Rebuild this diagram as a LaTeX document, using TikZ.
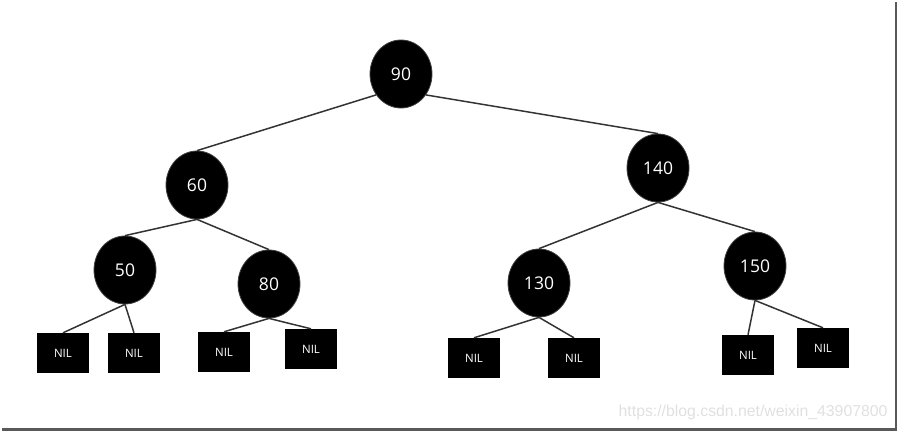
\documentclass[tikz,border=0pt]{standalone}
\usepackage{fontspec}
\setmainfont{Open Sans}
\newfontfamily\wmfont{Liberation Sans}
\usetikzlibrary{shapes.geometric}

\begin{document}
\begin{tikzpicture}[x=1pt,y=-1pt,
  keynode/.style={ellipse, fill=black, draw=black!75, line width=0.8pt, inner sep=0pt,
    minimum width=62pt, minimum height=68pt, text=white, font=\fontsize{17.5}{19}\selectfont},
  nilbox/.style={rectangle, fill=black, inner sep=0pt, minimum width=52pt, minimum height=40pt,
    text=white, font=\fontsize{11.5}{12}\selectfont},
  link/.style={draw=black!80, line width=1.5pt}]

\useasboundingbox (0,0) rectangle (900,432);

% frame shadow
\draw [black!65, line width=2.2pt] (896,2) -- (896,429.5) -- (2,429.5);

% keys
\node [keynode] (n90) at (401,74) {90};
\node [keynode] (n60) at (197,185) {60};
\node [keynode] (n140) at (658,168) {140};
\node [keynode] (n50) at (125,270) {50};
\node [keynode] (n80) at (269,284) {80};
\node [keynode] (n130) at (539,283) {130};
\node [keynode] (n150) at (755,266) {150};

% leaves
\node [nilbox] (nil1) at (63,353) {NIL};
\node [nilbox] (nil2) at (134,353) {NIL};
\node [nilbox] (nil3) at (224,352) {NIL};
\node [nilbox] (nil4) at (311,349) {NIL};
\node [nilbox] (nil5) at (474,358) {NIL};
\node [nilbox] (nil6) at (574,358) {NIL};
\node [nilbox] (nil7) at (748,355) {NIL};
\node [nilbox] (nil8) at (823,348) {NIL};

% links
\draw [link] (n90.220) -- (n60.north);
\draw [link] (n90.-40) -- (n140.north);
\draw [link] (n60.south) -- (n50.north);
\draw [link] (n60.south) -- (n80.north);
\draw [link] (n140.south) -- (n130.north);
\draw [link] (n140.south) -- (n150.north);
\draw [link] (n50.south) -- (nil1.north);
\draw [link] (n50.south) -- (nil2.north);
\draw [link] (n80.south) -- (nil3.north);
\draw [link] (n80.south) -- (nil4.north);
\draw [link] (n130.south) -- (nil5.north);
\draw [link] (n130.south) -- (nil6.north);
\draw [link] (n150.south) -- (nil7.north);
\draw [link] (n150.south) -- (nil8.north);

% watermark
\node [anchor=east, text=black!12, font=\wmfont\fontsize{15.8}{17}\selectfont] (mark) at (891,412) {https://blog.csdn.net/weixin\_43907800};

\end{tikzpicture}
\end{document}
